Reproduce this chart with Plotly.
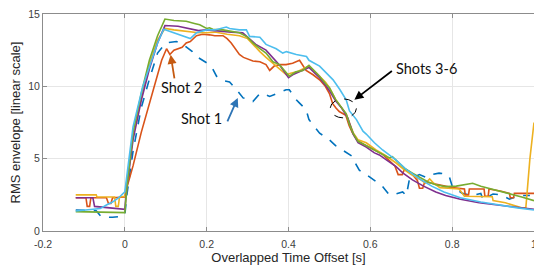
import plotly.graph_objects as go

# ---- data: (time offset [s], RMS envelope) ----
SHOT1 = [(-0.12,1.45),(-0.07,1.4),(-0.058,1.0),(-0.05,0.95),(-0.03,0.95),(-0.01,1.0),(0.0,1.1),
         (0.005,2.5),(0.02,5.5),(0.04,8.5),(0.06,10.5),(0.08,12.3),(0.1,13.0),(0.115,13.05),(0.126,13.1),
         (0.14,12.95),(0.15,12.75),(0.165,12.4),(0.175,12.06),(0.19,11.8),(0.207,11.5),(0.215,11.2),
         (0.224,10.7),(0.24,10.4),(0.256,10.3),(0.272,9.8),(0.289,9.2),(0.305,9.07),(0.313,8.95),
         (0.33,9.5),(0.338,9.5),(0.354,9.3),(0.362,9.4),(0.38,9.6),(0.394,9.76),(0.402,9.76),
         (0.419,9.07),(0.427,8.84),(0.443,8.4),(0.45,7.7),(0.465,7.2),(0.476,6.76),(0.49,6.5),
         (0.5,6.3),(0.515,5.9),(0.532,5.6),(0.545,5.4),(0.557,5.14),(0.565,4.6),(0.573,4.2),
         (0.585,4.0),(0.598,3.76),(0.615,3.4),(0.63,3.07),(0.646,2.5),(0.66,2.55),(0.679,2.7),
         (0.688,2.45),(0.695,3.5),(0.71,3.76),(0.72,3.9),(0.737,3.7),(0.75,3.9),(0.768,4.0),
         (0.785,3.95),(0.793,3.76),(0.8,3.1),(0.81,2.9),(0.825,2.6),(0.85,2.45),(0.87,2.6),
         (0.875,2.2),(0.9,2.56),(0.92,2.5),(0.94,2.2),(0.963,2.45),(0.99,2.45)]

SHOT2 = [(-0.12,2.3),(-0.095,2.3),(-0.092,1.7),(-0.086,1.7),(-0.083,2.3),(-0.045,2.3),(-0.04,1.9),
         (-0.034,1.9),(-0.03,2.3),(0.0,2.35),(0.005,3.0),(0.02,4.5),(0.04,6.8),(0.06,8.8),(0.073,10.0),
         (0.09,11.8),(0.102,12.6),(0.11,12.2),(0.12,12.5),(0.13,12.6),(0.14,12.7),(0.15,13.0),
         (0.16,13.1),(0.175,13.5),(0.19,13.6),(0.207,13.56),(0.22,13.5),(0.24,13.5),(0.25,13.3),
         (0.26,13.0),(0.27,12.6),(0.28,12.2),(0.29,12.0),(0.305,11.8),(0.313,11.75),(0.33,11.7),
         (0.345,11.5),(0.354,11.1),(0.365,11.4),(0.38,11.5),(0.394,11.5),(0.41,11.6),(0.419,11.7),
         (0.427,11.8),(0.443,11.1),(0.46,10.8),(0.476,10.45),(0.49,10.0),(0.5,9.5),(0.508,8.8),
         (0.516,8.5),(0.524,8.26),(0.54,8.0),(0.548,7.3),(0.556,6.8),(0.57,6.2),(0.59,5.9),
         (0.61,5.6),(0.63,5.3),(0.645,4.9),(0.66,4.5),(0.668,3.9),(0.678,3.9),(0.684,4.3),
         (0.7,4.0),(0.715,3.5),(0.72,2.95),(0.728,2.95),(0.733,3.4),(0.75,3.3),(0.768,3.2),
         (0.8,3.0),(0.83,2.9),(0.832,2.5),(0.84,2.5),(0.842,2.9),(0.878,2.9),(0.88,2.4),
         (0.888,2.4),(0.89,2.9),(0.92,2.75),(0.94,2.6),(0.942,2.3),(0.95,2.3),(0.952,2.6),(1.0,2.6)]

SHOT3 = [(-0.12,2.5),(-0.07,2.5),(-0.068,2.35),(-0.025,2.35),(-0.022,1.7),(-0.016,1.7),(-0.013,2.35),
         (0.0,2.4),(0.005,3.5),(0.02,6.5),(0.04,9.2),(0.06,11.5),(0.08,13.2),(0.098,14.0),(0.12,13.9),
         (0.15,13.8),(0.18,13.7),(0.2,13.7),(0.22,13.75),(0.25,13.6),(0.28,13.5),(0.3,13.3),
         (0.313,12.9),(0.33,12.4),(0.345,12.0),(0.362,11.6),(0.38,11.2),(0.395,10.8),(0.405,10.9),
         (0.42,11.0),(0.435,11.2),(0.45,11.4),(0.465,11.0),(0.476,10.7),(0.49,10.3),(0.5,9.9),
         (0.515,9.1),(0.53,8.5),(0.541,8.1),(0.55,7.4),(0.558,6.8),(0.57,6.3),(0.59,6.1),
         (0.614,5.6),(0.638,5.2),(0.663,4.7),(0.68,4.3),(0.7,3.9),(0.72,3.6),(0.735,3.3),
         (0.745,3.6),(0.755,3.3),(0.77,3.0),(0.79,2.95),(0.817,2.9),(0.83,2.4),(0.86,2.4),
         (0.898,2.37),(0.9,2.1),(0.93,1.95),(0.97,1.6),(0.98,1.6),(0.99,5.0),(1.0,7.5)]

SHOT4 = [(-0.12,2.3),(-0.078,2.3),(-0.074,1.7),(-0.05,1.65),(-0.02,1.55),(0.0,1.5),(0.005,3.0),
         (0.02,6.3),(0.04,9.0),(0.06,11.2),(0.08,13.0),(0.098,14.2),(0.13,14.15),(0.16,14.0),
         (0.18,13.85),(0.2,13.9),(0.23,13.8),(0.26,13.75),(0.288,13.7),(0.3,13.4),(0.32,12.9),
         (0.345,12.5),(0.362,12.0),(0.38,11.4),(0.39,11.0),(0.4,10.6),(0.41,10.8),(0.419,10.9),
         (0.435,11.1),(0.45,11.3),(0.465,10.9),(0.476,10.6),(0.49,10.1),(0.5,9.7),(0.515,9.0),
         (0.53,8.5),(0.545,7.8),(0.558,6.7),(0.57,6.1),(0.59,5.8),(0.61,5.4),(0.622,5.26),
         (0.64,4.9),(0.663,4.45),(0.68,4.0),(0.703,3.53),(0.73,3.1),(0.76,2.7),(0.784,2.45),
         (0.82,2.2),(0.866,1.95),(0.92,1.75),(0.96,1.6),(1.0,1.5)]

SHOT5 = [(-0.12,1.34),(-0.06,1.3),(0.0,1.27),(0.005,3.0),(0.02,6.8),(0.04,9.5),(0.06,11.8),
         (0.08,13.5),(0.098,14.65),(0.12,14.55),(0.15,14.5),(0.17,14.35),(0.183,14.25),(0.2,14.0),
         (0.207,14.05),(0.215,13.95),(0.24,13.9),(0.26,13.8),(0.28,13.7),(0.3,13.4),(0.313,13.0),
         (0.33,12.6),(0.345,12.3),(0.362,11.7),(0.378,11.5),(0.39,11.1),(0.402,10.7),(0.418,11.0),
         (0.435,11.1),(0.45,11.45),(0.465,11.0),(0.476,10.7),(0.49,10.2),(0.5,9.9),(0.515,9.1),
         (0.53,8.5),(0.541,8.1),(0.55,7.3),(0.558,6.75),(0.57,6.2),(0.59,5.9),(0.614,5.5),
         (0.63,5.3),(0.646,5.05),(0.654,5.14),(0.67,4.7),(0.685,4.3),(0.703,4.0),(0.72,3.7),
         (0.74,3.4),(0.76,3.2),(0.784,3.07),(0.81,3.1),(0.83,3.2),(0.85,3.3),(0.87,3.1),
         (0.906,2.84),(0.94,2.6),(0.97,2.35),(1.0,2.1)]

SHOT6 = [(-0.12,1.38),(-0.09,1.45),(-0.06,1.55),(-0.045,1.8),(-0.03,2.0),(-0.015,2.3),(-0.005,2.6),
         (0.0,2.7),(0.004,3.6),(0.02,7.2),(0.044,10.0),(0.065,11.8),(0.08,13.0),(0.095,13.95),
         (0.11,13.8),(0.13,13.6),(0.15,13.45),(0.16,13.3),(0.175,13.7),(0.19,13.85),(0.2,13.9),
         (0.22,13.9),(0.248,14.1),(0.256,14.0),(0.28,13.9),(0.297,13.9),(0.305,13.45),(0.33,13.4),
         (0.345,12.9),(0.37,12.6),(0.386,12.3),(0.395,12.4),(0.419,12.2),(0.444,12.06),(0.45,11.8),
         (0.476,11.4),(0.49,11.0),(0.509,10.45),(0.525,9.8),(0.541,9.07),(0.549,8.3),(0.566,7.7),
         (0.582,6.9),(0.59,6.7),(0.61,6.1),(0.63,5.6),(0.663,4.9),(0.69,4.2),(0.72,3.6),
         (0.75,3.1),(0.78,2.7),(0.82,2.3),(0.87,2.0),(0.92,1.75),(0.96,1.6),(1.0,1.45)]

SERIES = [("Shot 1", SHOT1, "#0072BD", "dash"),
          ("Shot 2", SHOT2, "#D95319", "solid"),
          ("Shot 3", SHOT3, "#EDB120", "solid"),
          ("Shot 4", SHOT4, "#7E2F8E", "solid"),
          ("Shot 5", SHOT5, "#77AC30", "solid"),
          ("Shot 6", SHOT6, "#4DBEEE", "solid")]

X_TICKS = [-0.2, 0, 0.2, 0.4, 0.6, 0.8, 1.0]
X_TICK_LABELS = ["-0.2", "0", "0.2", "0.4", "0.6", "0.8", "1"]
Y_TICKS = [0, 5, 10, 15]

fig = go.Figure()
for name, pts, color, dash in SERIES:
    fig.add_trace(go.Scatter(x=[p[0] for p in pts], y=[p[1] for p in pts], mode="lines",
                             name=name, line=dict(color=color, width=1.6, dash=dash)))

ann_font = dict(family="Lato, Open Sans, sans-serif", size=14.5, color="#111111")
fig.add_annotation(x=0.112, y=12.18, ax=4, ay=25, axref="pixel", ayref="pixel",
                   showarrow=True, arrowhead=2, arrowsize=1, arrowwidth=1.8, arrowcolor="#C55A11", text="")
fig.add_annotation(x=0.139, y=9.9, text="Shot 2", showarrow=False, font=ann_font)
fig.add_annotation(x=0.276, y=9.2, ax=-11, ay=25, axref="pixel", ayref="pixel",
                   showarrow=True, arrowhead=2, arrowsize=1, arrowwidth=1.8, arrowcolor="#2E75B6", text="")
fig.add_annotation(x=0.188, y=7.75, text="Shot 1", showarrow=False, font=ann_font)
fig.add_annotation(x=0.561, y=9.07, ax=39, ay=-30, axref="pixel", ayref="pixel",
                   showarrow=True, arrowhead=2, arrowsize=1, arrowwidth=1.8, arrowcolor="#000000", text="")
fig.add_annotation(x=0.737, y=11.2, text="Shots 3-6", showarrow=False, font=ann_font)
fig.add_shape(type="circle", x0=0.502, x1=0.566, y0=7.82, y1=9.13,
              line=dict(color="#000000", width=1, dash="dash"))

axis_font = dict(family="Liberation Sans, Arial, sans-serif", size=10.5, color="#404040")
title_font = dict(family="Liberation Sans, Arial, sans-serif", size=13, color="#262626")
fig.update_layout(
    width=534, height=268, margin=dict(l=43, r=0, t=14, b=37),
    paper_bgcolor="white", plot_bgcolor="white", showlegend=False,
    xaxis=dict(range=[-0.2, 1.0], tickvals=X_TICKS, ticktext=X_TICK_LABELS, tickfont=axis_font,
               automargin=False, ticklabeloverflow="allow", ticklabelstandoff=3,
               title=dict(text="Overlapped Time Offset [s]", font=title_font, standoff=3),
               showgrid=True, gridcolor="#e6e6e6", gridwidth=1, zeroline=False,
               showline=True, linecolor="#8c8c8c", linewidth=1, mirror="ticks",
               ticks="inside", ticklen=4, tickcolor="#8c8c8c"),
    yaxis=dict(range=[0, 15], tickvals=Y_TICKS, tickfont=axis_font,
               automargin=False,
               title=dict(text="RMS envelope [linear scale]", font=title_font, standoff=4),
               showgrid=True, gridcolor="#e6e6e6", gridwidth=1, zeroline=False,
               showline=True, linecolor="#8c8c8c", linewidth=1,
               ticks="inside", ticklen=4, tickcolor="#8c8c8c"),
)
fig.write_html("out.html", config={"displayModeBar": False},
               post_script="document.body.style.margin='0';document.body.style.overflow='hidden';")
